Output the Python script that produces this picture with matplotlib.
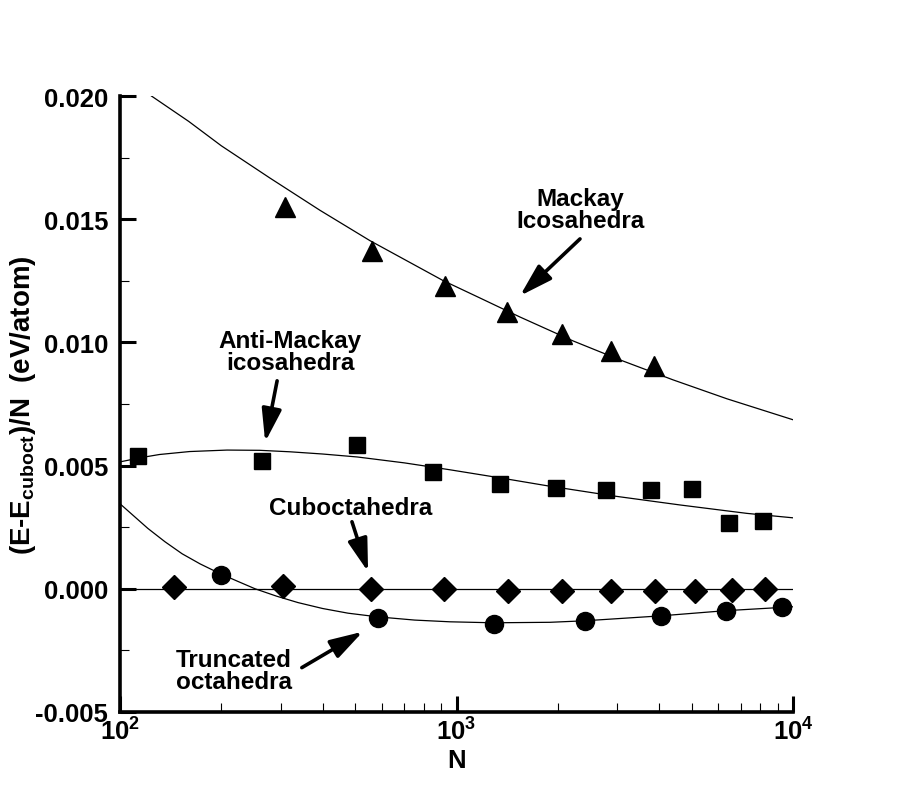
import numpy as np
import matplotlib.pyplot as plt
from matplotlib.ticker import (FixedLocator, FixedFormatter, FormatStrFormatter,
                               LogLocator, MultipleLocator, NullFormatter)

plt.rcParams['font.family'] = ['Liberation Sans', 'DejaVu Sans']
plt.rcParams['font.weight'] = 'bold'
plt.rcParams['mathtext.fontset'] = 'custom'
plt.rcParams['mathtext.rm'] = 'Liberation Sans:bold'
plt.rcParams['mathtext.bf'] = 'Liberation Sans:bold'
plt.rcParams['mathtext.default'] = 'bf'

# Mackay icosahedra
mackay_N = [309, 561, 923, 1415, 2057, 2869, 3871]
mackay_E = [0.0155, 0.01371, 0.01229, 0.01124, 0.01034, 0.00966, 0.00905]
mackay_fit_N = [124, 160, 200, 279, 393, 553, 912, 1175, 1544, 2220, 3061,
                4399, 6366, 10000]
mackay_fit_E = [0.0200, 0.01897, 0.01798, 0.01667, 0.01536, 0.01413, 0.01251,
                0.0118, 0.01103, 0.01006, 0.00929, 0.00848, 0.00771, 0.00686]

# Anti-Mackay icosahedra
anti_N = [113, 265, 507, 854, 1343, 1972, 2775, 3776, 5000, 6452, 8147]
anti_E = [0.0054, 0.00519, 0.00584, 0.00475, 0.00426, 0.0041, 0.00402,
          0.00402, 0.00406, 0.00268, 0.00276]
anti_fit_N = [100, 115, 131, 161, 208, 260, 320, 400, 507, 700, 956, 1350,
              1862, 2919, 4628, 7300, 10000]
anti_fit_E = [0.00515, 0.00532, 0.00545, 0.00557, 0.00563, 0.00562, 0.00556,
              0.00547, 0.00535, 0.00511, 0.00483, 0.0045, 0.00418, 0.00377,
              0.0034, 0.00306, 0.00288]

# Cuboctahedra (reference)
cubo_N = [145, 305, 558, 921, 1419, 2053, 2872, 3879, 5106, 6582, 8260]
cubo_E = [0.00009, 0.00011, 0.0, -0.00002, -0.00008, -0.0001, -0.0001,
          -0.00008, -0.00008, -0.00004, 0.0]
cubo_fit_N = [100, 10000]
cubo_fit_E = [0.0, 0.0]

# Truncated octahedra
trunc_N = [200, 586, 1289, 2405, 4046, 6325, 9270]
trunc_E = [0.00057, -0.0012, -0.00142, -0.0013, -0.0011, -0.00089, -0.00073]
trunc_fit_N = [100, 110, 121, 136, 153, 173, 198, 224, 252, 292, 338, 400,
               476, 584, 751, 956, 1285, 1897, 2394, 4035, 6280, 10000]
trunc_fit_E = [0.00345, 0.00295, 0.00245, 0.00191, 0.00142, 0.00101, 0.00062,
               0.0003, 0.0, -0.0003, -0.00056, -0.0008, -0.00099, -0.00114,
               -0.00127, -0.00134, -0.00138, -0.00136, -0.0013, -0.0011,
               -0.00089, -0.00073]

x_ticks = [100, 1000, 10000]
x_tick_labels = [r'$10^{2}$', r'$10^{3}$', r'$10^{4}$']

fig = plt.figure(figsize=(9.03, 8.03), dpi=100)
ax = fig.add_axes([0.1329, 0.1121, 0.7453, 0.7671])

ax.plot(mackay_fit_N, mackay_fit_E, color='k', lw=0.9)
ax.plot(anti_fit_N, anti_fit_E, color='k', lw=0.9)
ax.plot(cubo_fit_N, cubo_fit_E, color='k', lw=0.9)
ax.plot(trunc_fit_N, trunc_fit_E, color='k', lw=0.9)

ax.plot(mackay_N, mackay_E, '^', color='k', ms=14, ls='none')
ax.plot(anti_N, anti_E, 's', color='k', ms=11.5, ls='none')
ax.plot(cubo_N, cubo_E, 'D', color='k', ms=12.5, ls='none')
ax.plot(trunc_N, trunc_E, 'o', color='k', ms=13, ls='none')

ax.set_xscale('log')
ax.set_xlim(100, 10000)
ax.set_ylim(-0.005, 0.020)

ax.xaxis.set_major_locator(FixedLocator(x_ticks))
ax.xaxis.set_major_formatter(FixedFormatter(x_tick_labels))
ax.xaxis.set_minor_locator(LogLocator(base=10, subs=np.arange(2, 10)))
ax.xaxis.set_minor_formatter(NullFormatter())
ax.yaxis.set_major_locator(MultipleLocator(0.005))
ax.yaxis.set_minor_locator(MultipleLocator(0.0025))
ax.yaxis.set_major_formatter(FormatStrFormatter('%.3f'))

for s in ['top', 'right']:
    ax.spines[s].set_visible(False)
for s in ['left', 'bottom']:
    ax.spines[s].set_linewidth(2.6)

ax.tick_params(which='major', direction='in', length=11.5, width=2.2,
               labelsize=18.5)
ax.tick_params(which='minor', direction='in', length=6.5, width=0.8)
ax.tick_params(axis='y', which='major', pad=8.5)
ax.tick_params(axis='x', which='major', pad=4)

ax.set_xlabel('N', fontsize=18.5, fontweight='bold', labelpad=2)
ax.set_ylabel(r'(E-E$_{\rm cuboct}$)/N  (eV/atom)', fontsize=20,
              fontweight='bold')
ax.yaxis.set_label_coords(-0.122, 0.5)

arrow = dict(arrowstyle='-|>,head_length=2.0,head_width=0.6', color='k',
             lw=2.6, shrinkA=0, shrinkB=0, mutation_scale=10)

ax.annotate('', xy=(1544, 0.01189), xytext=(2328, 0.0142), arrowprops=arrow)
ax.text(2328, 0.0154, 'Mackay\nIcosahedra', ha='center', va='center',
        fontsize=17.5, fontweight='bold', linespacing=0.95)

ax.annotate('', xy=(270, 0.00596), xytext=(293, 0.00844), arrowprops=arrow)
ax.text(320, 0.00963, 'Anti-Mackay\nicosahedra', ha='center', va='center',
        fontsize=17.5, fontweight='bold', linespacing=0.95)

ax.annotate('', xy=(546, 0.00069), xytext=(489, 0.00272), arrowprops=arrow)
ax.text(483, 0.00329, 'Cuboctahedra', ha='center', va='center',
        fontsize=17.5, fontweight='bold')

ax.annotate('', xy=(527, -0.00174), xytext=(347, -0.0032), arrowprops=arrow)
ax.text(218, -0.00331, 'Truncated\noctahedra', ha='center', va='center',
        fontsize=17.5, fontweight='bold', linespacing=0.95)

fig.savefig('out.png', dpi=100)
